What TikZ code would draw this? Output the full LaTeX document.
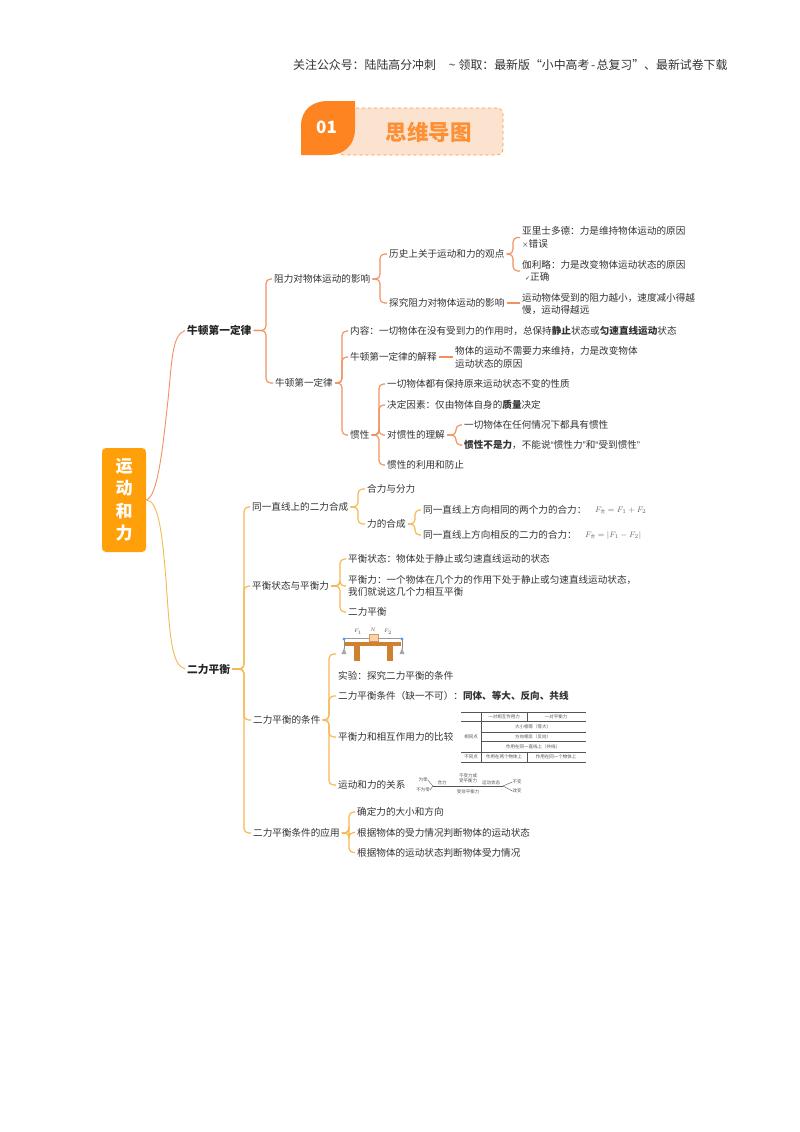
\documentclass[tikz,border=0pt]{standalone}
\usepackage{fontspec}
\setmainfont{Noto Sans CJK SC}
\newfontfamily\symfont{DejaVu Sans}
\newfontfamily\latinq{Liberation Sans}
\definecolor{txt}{HTML}{333333}
\definecolor{brA}{HTML}{F0915F}
\definecolor{brB}{HTML}{F6B850}
\definecolor{rootc}{HTML}{FF9F0A}
\definecolor{leafc}{HTML}{FD8420}
\definecolor{bannerc}{HTML}{FCE3CF}
\definecolor{tblc}{HTML}{555555}
\tikzset{
  tx/.style={anchor=west,inner xsep=2pt,inner ysep=0pt,align=left,text=txt,font=\fontsize{9.6}{12.6}\selectfont},
  head/.style={tx,font=\bfseries\fontsize{10.7}{13}\selectfont,text=black!85},
  sm/.style={inner sep=0pt,text=tblc,font=\fontsize{4.5}{5.2}\selectfont},
  fm/.style={anchor=west,inner sep=0pt,text=black!60,font=\fontsize{8.5}{10}\selectfont},
  brlineA/.style={draw=brA,line width=1.15pt,rounded corners=4.5pt},
  brlineB/.style={draw=brB,line width=1.15pt,rounded corners=4.5pt},
  tbl/.style={draw=tblc,line width=.45pt},
}
\newcommand{\he}{\hbox{\fontsize{4.5}{5}\selectfont 合}}
\newcommand{\brc}[4]{\draw[#1] (#2.east) -- (#2.east -| #3) -- (#3 |- #4.west) -- (#4.west);}
\begin{document}
\begin{tikzpicture}[x=1pt,y=-1pt]
\useasboundingbox[fill=white] (0,0) rectangle (800,1132);
% header
\node[anchor=west,inner sep=0pt,text=black!80,font=\fontsize{11.9}{14}\selectfont] (hdr) at (293,65) {关注公众号：陆陆高分冲刺\hspace{13pt}\~{}\hspace{3pt}领取：最新版“小中高考\hspace{1.5pt}-\hspace{1.5pt}总复习”、最新试卷下载};
% banner
\node[draw=leafc!85,dashed,line width=.6pt,fill=bannerc,rounded corners=6pt,minimum width=165pt,minimum height=47pt,inner sep=0pt] (banner) at (420.5,131.5) {};
\path[fill=leafc] (301,155) -- (301,126) .. controls (301,110) and (312,101) .. (328,101) -- (355,101) -- (355,129) .. controls (355,145) and (344,155) .. (329,155) -- cycle;
\node[text=white,font=\bfseries\fontsize{17}{20}\selectfont,inner sep=0pt] (num) at (326.5,127.5) {01};
\node[text=leafc!90,font=\bfseries\fontsize{21.5}{24}\selectfont,inner sep=0pt] (bt) at (428.5,132) {思维导图};
% root
\node[fill=rootc,rounded corners=4pt,minimum width=44pt,minimum height=104pt,inner sep=0pt,text=white,align=center,font=\bfseries\fontsize{17}{22.4}\selectfont] (root) at (124,500) {运\\动\\和\\力};
% level 1
\node[head] (n1) at (185,330.5) {牛顿第一定律};
\node[head] (n2) at (185,669) {二力平衡};
\draw[draw=brA,line width=.9pt] (root.east) .. controls (158,497) and (163,445) .. (168,400) .. controls (172,360) and (172,335) .. (n1.west);
\draw[draw=brB,line width=.9pt] (root.east) .. controls (158,500) and (162,530) .. (166,580) .. controls (170,640) and (172,665) .. (n2.west);
% upper branch
\coordinate (t1) at (266,0);
\node[tx] (a1) at (272,279) {阻力对物体运动的影响};
\node[tx] (a2) at (273,383) {牛顿第一定律};
\brc{brlineA}{n1}{t1}{a1}
\brc{brlineA}{n1}{t1}{a2}
\coordinate (t2) at (380,0);
\node[tx] (b1) at (387,254) {历史上关于运动和力的观点};
\node[tx] (b2) at (387,303) {探究阻力对物体运动的影响};
\brc{brlineA}{a1}{t2}{b1}
\brc{brlineA}{a1}{t2}{b2}
\coordinate (t3) at (513,0);
\node[tx] (c1) at (520,237.5) {亚里士多德：力是维持物体运动的原因\\{\fontsize{6.5}{8}\selectfont ×}错误};
\node[tx] (c2) at (520,271) {伽利略：力是改变物体运动状态的原因\\\hspace{3pt}{\symfont\fontsize{6}{8}\selectfont ✓}正确};
\brc{brlineA}{b1}{t3}{c1}
\brc{brlineA}{b1}{t3}{c2}
\node[tx] (c3) at (520,304) {运动物体受到的阻力越小，速度减小得越\\慢，运动得越远};
\draw[brlineA] (b2.east) -- (c3.west |- b2.east);
\coordinate (t4) at (342,0);
\node[tx] (d1) at (348,331) {内容：一切物体在没有受到力的作用时，总保持\textbf{静止}状态或\textbf{匀速直线运动}状态};
\node[tx] (d2) at (348,357) {牛顿第一定律的解释};
\node[tx] (d3) at (348,435) {惯性};
\brc{brlineA}{a2}{t4}{d1}
\brc{brlineA}{a2}{t4}{d2}
\brc{brlineA}{a2}{t4}{d3}
\node[tx] (e0) at (453,357.5) {物体的运动不需要力来维持，力是改变物体\\运动状态的原因};
\draw[brlineA] (d2.east) -- (e0.west |- d2.east);
\coordinate (t5) at (379,0);
\node[tx] (e1) at (385,384) {一切物体都有保持原来运动状态不变的性质};
\node[tx] (e2) at (385,405) {决定因素：仅由物体自身的\textbf{质量}决定};
\node[tx] (e3) at (385,435) {对惯性的理解};
\node[tx] (e4) at (385,465) {惯性的利用和防止};
\brc{brlineA}{d3}{t5}{e1}
\brc{brlineA}{d3}{t5}{e2}
\brc{brlineA}{d3}{t5}{e3}
\brc{brlineA}{d3}{t5}{e4}
\coordinate (t6) at (456,0);
\node[tx] (f1) at (462,425) {一切物体在任何情况下都具有惯性};
\node[tx] (f2) at (462,445) {\textbf{惯性不是力}，不能说{\latinq “}惯性力{\latinq ”}和{\latinq “}受到惯性{\latinq ”}};
\brc{brlineA}{e3}{t6}{f1}
\brc{brlineA}{e3}{t6}{f2}
% lower branch
\coordinate (u1) at (244,0);
\node[tx] (g1) at (250,507) {同一直线上的二力合成};
\node[tx] (g2) at (250,586) {平衡状态与平衡力};
\node[tx] (g3) at (251,720) {二力平衡的条件};
\node[tx] (g4) at (251,833) {二力平衡条件的应用};
\brc{brlineB}{n2}{u1}{g1}
\brc{brlineB}{n2}{u1}{g2}
\brc{brlineB}{n2}{u1}{g3}
\brc{brlineB}{n2}{u1}{g4}
\coordinate (u2) at (358,0);
\node[tx] (h1) at (365,489) {合力与分力};
\node[tx] (h2) at (365,524) {力的合成};
\brc{brlineB}{g1}{u2}{h1}
\brc{brlineB}{g1}{u2}{h2}
\coordinate (u3) at (415,0);
\node[tx] (i1) at (421,510) {同一直线上方向相同的两个力的合力：};
\node[tx] (i2) at (421,535) {同一直线上方向相反的二力的合力：};
\brc{brlineB}{h2}{u3}{i1}
\brc{brlineB}{h2}{u3}{i2}
\node[fm] (fa) at (595,510) {$F_{\he}=F_1+F_2$};
\node[fm] (fb) at (585,535) {$F_{\he}=\left|F_1-F_2\right|$};
\coordinate (u4) at (340,0);
\node[tx] (j1) at (346,559) {平衡状态：物体处于静止或匀速直线运动的状态};
\node[tx] (j2) at (346,586) {平衡力：一个物体在几个力的作用下处于静止或匀速直线运动状态，\\我们就说这几个力相互平衡};
\node[tx] (j3) at (346,612) {二力平衡};
\brc{brlineB}{g2}{u4}{j1}
\brc{brlineB}{g2}{u4}{j2}
\brc{brlineB}{g2}{u4}{j3}
\coordinate (u5) at (329,0);
\coordinate (expt) at (336,654);
\node[tx] (k1) at (336,676) {实验：探究二力平衡的条件};
\node[tx] (k2) at (336,696) {二力平衡条件（缺一不可）：\textbf{同体、等大、反向、共线}};
\node[tx] (k3) at (336,737) {平衡力和相互作用力的比较};
\node[tx] (k4) at (336,785) {运动和力的关系};
\draw[brlineB] (g3.east) -- (g3.east -| u5) -- (u5 |- expt) -- (expt);
\brc{brlineB}{g3}{u5}{k2}
\brc{brlineB}{g3}{u5}{k3}
\brc{brlineB}{g3}{u5}{k4}
\coordinate (u6) at (349,0);
\node[tx] (m1) at (355,812) {确定力的大小和方向};
\node[tx] (m2) at (355,832.5) {根据物体的受力情况判断物体的运动状态};
\node[tx] (m3) at (355,852.5) {根据物体的运动状态判断物体受力情况};
\brc{brlineB}{g4}{u6}{m1}
\brc{brlineB}{g4}{u6}{m2}
\brc{brlineB}{g4}{u6}{m3}
% experiment sketch
\draw[black!45,line width=.4pt] (344,640) -- (344,649) (402,640) -- (402,649);
\fill[black!35] (344,648) -- (346.5,654) -- (341.5,654) -- cycle;
\fill[black!35] (402,648) -- (404.5,654) -- (399.5,654) -- cycle;
\fill[brown!75!orange] (345,642) rectangle (401,645.5);
\fill[brown!75!orange] (354,645) rectangle (359.5,661);
\fill[brown!75!orange] (387,645) rectangle (392.5,661);
\draw[black!40,line width=.6pt] (345,638.5) -- (402,638.5);
\draw[fill=orange!35,draw=brown!80,line width=.4pt] (369,634) rectangle (378,641);
\fill[blue!55!cyan!70] (344,639) circle (1.6);
\fill[blue!55!cyan!70] (402,639) circle (1.6);
\node[sm] (ef1) at (358,632) {$F_1$};
\node[sm] (ef2) at (373,630) {$N$};
\node[sm] (ef3) at (388,632) {$F_2$};
% comparison table
\draw[tbl] (461,712) -- (586,712) (461,721) -- (586,721) (481,732) -- (586,732) (481,741) -- (586,741) (461,752) -- (586,752) (461,762) -- (586,762);
\draw[tbl] (481,712) -- (481,762) (527,712) -- (527,721) (527,752) -- (527,762);
\node[sm] (tb1) at (504,716.5) {一对相互作用力};
\node[sm] (tb2) at (556,716.5) {一对平衡力};
\node[sm] (tb3) at (533,726.5) {大小相等（等大）};
\node[sm] (tb4) at (533,736.5) {方向相反（反向）};
\node[sm] (tb5) at (533,746.5) {作用在同一直线上（共线）};
\node[sm] (tb6) at (471,736.5) {相同点};
\node[sm] (tb7) at (471,757) {不同点};
\node[sm] (tb8) at (504,757) {作用在两个物体上};
\node[sm] (tb9) at (556,757) {作用在同一个物体上};
% relation sketch
\node[sm] (r1) at (423,780) {为零};
\node[sm] (r2) at (423,790) {不为零};
\node[sm] (r3) at (442,783) {合力};
\node[sm,align=center] (r4) at (468,778.5) {不受力或\\受平衡力};
\node[sm] (r5) at (468,791.5) {受非平衡力};
\node[sm] (r6) at (491,783) {运动状态};
\node[sm] (r7) at (517,782) {不变};
\node[sm] (r8) at (517,791) {改变};
\coordinate (ra) at (433,786);
\coordinate (rb) at (503,786);
\draw[tblc,line width=.4pt] (ra) -- (rb);
\draw[tblc,line width=.4pt] (r1.east) -- (ra) -- (r2.east);
\draw[tblc,line width=.4pt] (r7.west) -- (rb) -- (r8.west);
\end{tikzpicture}
\end{document}
